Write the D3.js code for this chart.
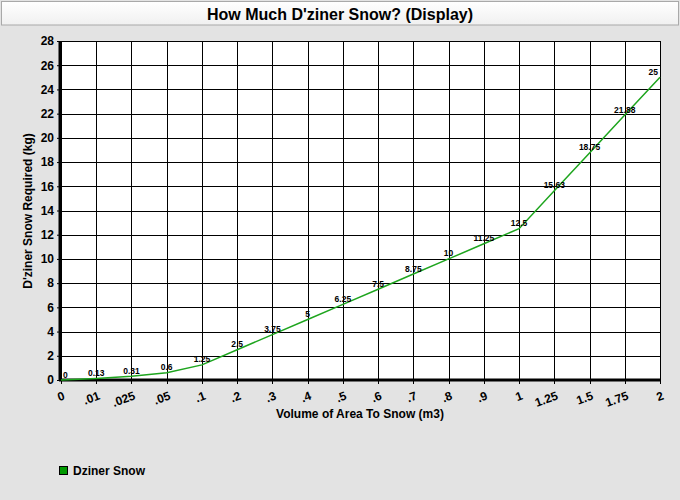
<!DOCTYPE html>
<html>
<head>
<meta charset="utf-8">
<script src="https://cdn.jsdelivr.net/npm/d3@7"></script>
<style>
  html, body { margin: 0; padding: 0; background: #e3e3e3; }
  svg { display: block; }
  text { font-family: "Liberation Sans", Arial, sans-serif; font-weight: bold; fill: #000; }
</style>
</head>
<body>
<svg id="chart" width="680" height="500"></svg>
<script>
// ---- data ----
const categories = ["0", ".01", ".025", ".05", ".1", ".2", ".3", ".4", ".5", ".6", ".7", ".8", ".9", "1", "1.25", "1.5", "1.75", "2"];
const snowValues = [0, 0.13, 0.31, 0.6, 1.25, 2.5, 3.75, 5, 6.25, 7.5, 8.75, 10, 11.25, 12.5, 15.63, 18.75, 21.88, 25];
const valueLabels = ["0", "0.13", "0.31", "0.6", "1.25", "2.5", "3.75", "5", "6.25", "7.5", "8.75", "10", "11.25", "12.5", "15.63", "18.75", "21.88", "25"];
const yTicks = [0, 2, 4, 6, 8, 10, 12, 14, 16, 18, 20, 22, 24, 26, 28];
const seriesName = "Dziner Snow";
const titleText = "How Much D'ziner Snow? (Display)";
const xTitle = "Volume of Area To Snow (m3)";
const yTitle = "D'ziner Snow Required (kg)";

(function () {
// ---- layout ----
const W = 680, H = 500;
const pLeft = 61, pRight = 660, pTop = 41, pBottom = 380;
const svg = d3.select("#chart");

svg.append("rect").attr("width", W).attr("height", H).attr("fill", "#e3e3e3");

// title box
const defs = svg.append("defs");
const grad = defs.append("linearGradient").attr("id", "tg").attr("x1", 0).attr("y1", 0).attr("x2", 0).attr("y2", 1);
grad.append("stop").attr("offset", "0%").attr("stop-color", "#ffffff");
grad.append("stop").attr("offset", "100%").attr("stop-color", "#f0f0f0");
svg.append("rect").attr("x", 1.5).attr("y", 1.5).attr("width", 677).attr("height", 23.5)
  .attr("fill", "url(#tg)").attr("stroke", "#a9a9a9").attr("stroke-width", 1);
svg.append("text").attr("x", 340).attr("y", 20).attr("text-anchor", "middle")
  .style("font-size", "16px").text(titleText);

// scales
const x = d3.scalePoint().domain(categories).range([pLeft, pRight]);
const y = d3.scaleLinear().domain([0, 28]).range([pBottom, pTop]);

// plot background
svg.append("rect").attr("x", pLeft).attr("y", pTop).attr("width", pRight - pLeft).attr("height", pBottom - pTop).attr("fill", "#fff");

// grid
const grid = svg.append("g").attr("shape-rendering", "crispEdges");
grid.selectAll("line.h").data(yTicks).join("line")
  .attr("x1", pLeft).attr("x2", pRight)
  .attr("y1", d => Math.round(y(d)) + 0.5).attr("y2", d => Math.round(y(d)) + 0.5)
  .attr("stroke", "#000").attr("stroke-width", 1);
grid.selectAll("line.v").data(categories).join("line")
  .attr("x1", d => Math.round(x(d)) + 0.5).attr("x2", d => Math.round(x(d)) + 0.5)
  .attr("y1", pTop).attr("y2", pBottom + 4)
  .attr("stroke", "#000").attr("stroke-width", 1);

// y axis
const yAxis = d3.axisLeft(y).tickValues(yTicks).tickSize(4).tickPadding(3);
const ya = svg.append("g").attr("transform", `translate(${pLeft},0)`).call(yAxis);
ya.select(".domain").remove();
ya.selectAll(".tick line").attr("stroke", "#000");
ya.selectAll(".tick text").style("font-size", "12px").style("font-family", "Liberation Sans, Arial, sans-serif").style("font-weight", "bold").attr("fill", "#000");

// x axis labels (rotated)
const xAxis = d3.axisBottom(x).tickSize(0).tickFormat(d => d);
const xa = svg.append("g").attr("transform", `translate(0,${pBottom})`).call(xAxis);
xa.select(".domain").remove();
xa.selectAll(".tick text")
  .style("font-size", "12px").style("font-family", "Liberation Sans, Arial, sans-serif").style("font-weight", "bold").attr("fill", "#000")
  .attr("text-anchor", "end").attr("dy", 0).attr("y", 0)
  .attr("transform", "translate(4,19) rotate(-20)");

// thick axis lines
svg.append("line").attr("x1", pLeft - 1).attr("x2", pLeft - 1).attr("y1", pTop).attr("y2", pBottom + 1)
  .attr("stroke", "#000").attr("stroke-width", 3);
svg.append("line").attr("x1", pLeft - 2).attr("x2", pRight + 1).attr("y1", pBottom).attr("y2", pBottom)
  .attr("stroke", "#000").attr("stroke-width", 3);

// line
const line = d3.line().x((d, i) => x(categories[i])).y(d => y(d));
svg.append("path").datum(snowValues).attr("d", line)
  .attr("fill", "none").attr("stroke", "#1ea51e").attr("stroke-width", 1.5);

// value labels
const lbl = svg.append("g");
lbl.selectAll("text").data(snowValues).join("text")
  .style("font-size", "8.5px")
  .attr("text-anchor", "middle")
  .attr("y", d => y(d) - 2.5)
  .text((d, i) => valueLabels[i])
  .each(function (d, i) {
    const w = this.getComputedTextLength();
    let cx = x(categories[i]);
    cx = Math.max(pLeft + 2 + w / 2, Math.min(pRight - 2 - w / 2, cx));
    d3.select(this).attr("x", cx);
  });

// axis titles
svg.append("text").attr("x", 360).attr("y", 418).attr("text-anchor", "middle")
  .style("font-size", "12px").text(xTitle);
svg.append("text").attr("transform", "translate(32,211) rotate(-90)").attr("text-anchor", "middle")
  .style("font-size", "12px").text(yTitle);

// legend
svg.append("rect").attr("x", 59.5).attr("y", 466.5).attr("width", 8).attr("height", 8)
  .attr("fill", "#009900").attr("stroke", "#000").attr("stroke-width", 1);
svg.append("text").attr("x", 73).attr("y", 475).style("font-size", "12px").text(seriesName);
})();
</script>
</body>
</html>
